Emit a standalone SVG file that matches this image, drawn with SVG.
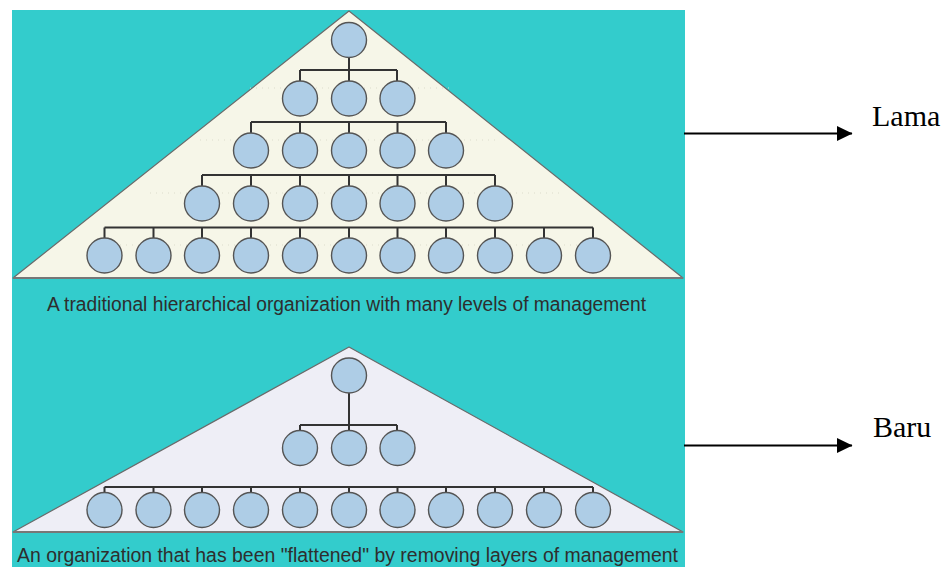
<svg xmlns="http://www.w3.org/2000/svg" width="947" height="567" viewBox="0 0 947 567">
  <style>
    .panel { fill: #33cccc; }
    .tri { stroke: #6a6a6a; stroke-width: 1.2; stroke-linejoin: round; }
    .old { fill: #f6f6e8; }
    .flat { fill: #eeeef6; }
    .node { fill: #aecde6; stroke: #555555; stroke-width: 1.4; }
    .link { fill: none; stroke: #333333; stroke-width: 2; }
    .dots { fill: none; stroke: #dcdccc; stroke-width: 1; stroke-dasharray: 1 5; }
    .caption { font-family: "Liberation Sans", Arial, sans-serif; font-size: 20px; fill: #2e2e2e; }
    .label { font-family: "Liberation Serif", "Times New Roman", serif; font-size: 30px; fill: #000000; }
    .arrow { stroke: #000000; stroke-width: 2; fill: none; }
  </style>
  <defs>
    <marker id="head" viewBox="0 0 16 16" markerWidth="16" markerHeight="16" refX="15" refY="8" orient="auto" markerUnits="userSpaceOnUse">
      <path d="M0,0.5 L15.5,8 L0,15.5 Z" fill="#000000"/>
    </marker>
    <circle id="n" r="17.5"/>
  </defs>

  <rect width="947" height="567" fill="#ffffff"/>
  <rect class="panel" x="12" y="10" width="673" height="557"/>

  <!-- traditional hierarchy backdrop -->
  <g id="pyramid-old">
    <polygon class="tri old" points="349,11 683,278 13,278"/>
    <line x1="13" y1="278" x2="683" y2="278" stroke="#777" stroke-width="2"/>
    <g class="dots">
      <line x1="250" y1="88" x2="450" y2="88"/>
      <line x1="200" y1="140" x2="500" y2="140"/>
      <line x1="150" y1="193" x2="560" y2="193"/>
      <line x1="90" y1="245" x2="610" y2="245"/>
    </g>
  </g>

  <!-- flattened organisation backdrop -->
  <g id="pyramid-flat">
    <polygon class="tri flat" points="349,347 683,532 13,532"/>
    <line x1="13" y1="532" x2="683" y2="532" stroke="#777" stroke-width="2"/>
  </g>

  <g id="connectors">
    <!-- level 1 to 2 -->
    <path class="link" d="M349,57 V70 M300,70 H397 M300,70 V81 M349,70 V81 M397,70 V81"/>
    <!-- level 2 to 3 -->
    <path class="link" d="M251,122 H446 M251,122 V133 M300,122 V133 M349,122 V133 M397.5,122 V133 M446,122 V133"/>
    <!-- level 3 to 4 -->
    <path class="link" d="M202,175 H495 M202,175 V186 M251,175 V186 M300,175 V186 M349,175 V186 M397.5,175 V186 M446,175 V186 M495,175 V186"/>
    <!-- level 4 to 5 -->
    <path class="link" d="M104.5,227.5 H593 M104.5,227.5 V238 M153.5,227.5 V238 M202,227.5 V238 M251,227.5 V238 M300,227.5 V238 M349,227.5 V238 M397.5,227.5 V238 M446,227.5 V238 M495,227.5 V238 M544,227.5 V238 M593,227.5 V238"/>
    <!-- flattened: top to middle -->
    <path class="link" d="M349,393 V425 M300,425 H397 M300,425 V431 M349,425 V431 M397,425 V431"/>
    <!-- flattened: middle to staff -->
    <path class="link" d="M104.5,487 H593 M104.5,487 V493 M153.5,487 V493 M202,487 V493 M251,487 V493 M300,487 V493 M349,487 V493 M397.5,487 V493 M446,487 V493 M495,487 V493 M544,487 V493 M593,487 V493"/>
    <!-- pointers to labels -->
    <line class="arrow" x1="684" y1="133.5" x2="852" y2="133.5" marker-end="url(#head)"/>
    <line class="arrow" x1="684" y1="445.5" x2="852" y2="445.5" marker-end="url(#head)"/>
  </g>

  <g id="old-level-1" class="node">
    <use href="#n" x="349" y="40"/>
  </g>
  <g id="old-level-2" class="node">
    <use href="#n" x="300" y="98.5"/><use href="#n" x="349" y="98.5"/><use href="#n" x="397.5" y="98.5"/>
  </g>
  <g id="old-level-3" class="node">
    <use href="#n" x="251" y="150.5"/><use href="#n" x="300" y="150.5"/><use href="#n" x="349" y="150.5"/><use href="#n" x="397.5" y="150.5"/><use href="#n" x="446" y="150.5"/>
  </g>
  <g id="old-level-4" class="node">
    <use href="#n" x="202" y="203.5"/><use href="#n" x="251" y="203.5"/><use href="#n" x="300" y="203.5"/><use href="#n" x="349" y="203.5"/><use href="#n" x="397.5" y="203.5"/><use href="#n" x="446" y="203.5"/><use href="#n" x="495" y="203.5"/>
  </g>
  <g id="old-level-5" class="node">
    <use href="#n" x="104.5" y="255.5"/><use href="#n" x="153.5" y="255.5"/><use href="#n" x="202" y="255.5"/><use href="#n" x="251" y="255.5"/><use href="#n" x="300" y="255.5"/><use href="#n" x="349" y="255.5"/><use href="#n" x="397.5" y="255.5"/><use href="#n" x="446" y="255.5"/><use href="#n" x="495" y="255.5"/><use href="#n" x="544" y="255.5"/><use href="#n" x="593" y="255.5"/>
  </g>

  <text id="caption-old" class="caption" x="47" y="311" textLength="599" lengthAdjust="spacingAndGlyphs">A traditional hierarchical organization with many levels of management</text>

  <g id="flat-level-1" class="node">
    <use href="#n" x="349" y="375.5"/>
  </g>
  <g id="flat-level-2" class="node">
    <use href="#n" x="300" y="448"/><use href="#n" x="349" y="448"/><use href="#n" x="397.5" y="448"/>
  </g>
  <g id="flat-level-3" class="node">
    <use href="#n" x="104.5" y="510"/><use href="#n" x="153.5" y="510"/><use href="#n" x="202" y="510"/><use href="#n" x="251" y="510"/><use href="#n" x="300" y="510"/><use href="#n" x="349" y="510"/><use href="#n" x="397.5" y="510"/><use href="#n" x="446" y="510"/><use href="#n" x="495" y="510"/><use href="#n" x="544" y="510"/><use href="#n" x="593" y="510"/>
  </g>

  <text id="caption-flat" class="caption" x="17" y="562" textLength="661" lengthAdjust="spacingAndGlyphs">An organization that has been "flattened" by removing layers of management</text>

  <g id="label-lama"><text class="label" x="872" y="126">Lama</text></g>
  <g id="label-baru"><text class="label" x="873" y="437">Baru</text></g>
</svg>
